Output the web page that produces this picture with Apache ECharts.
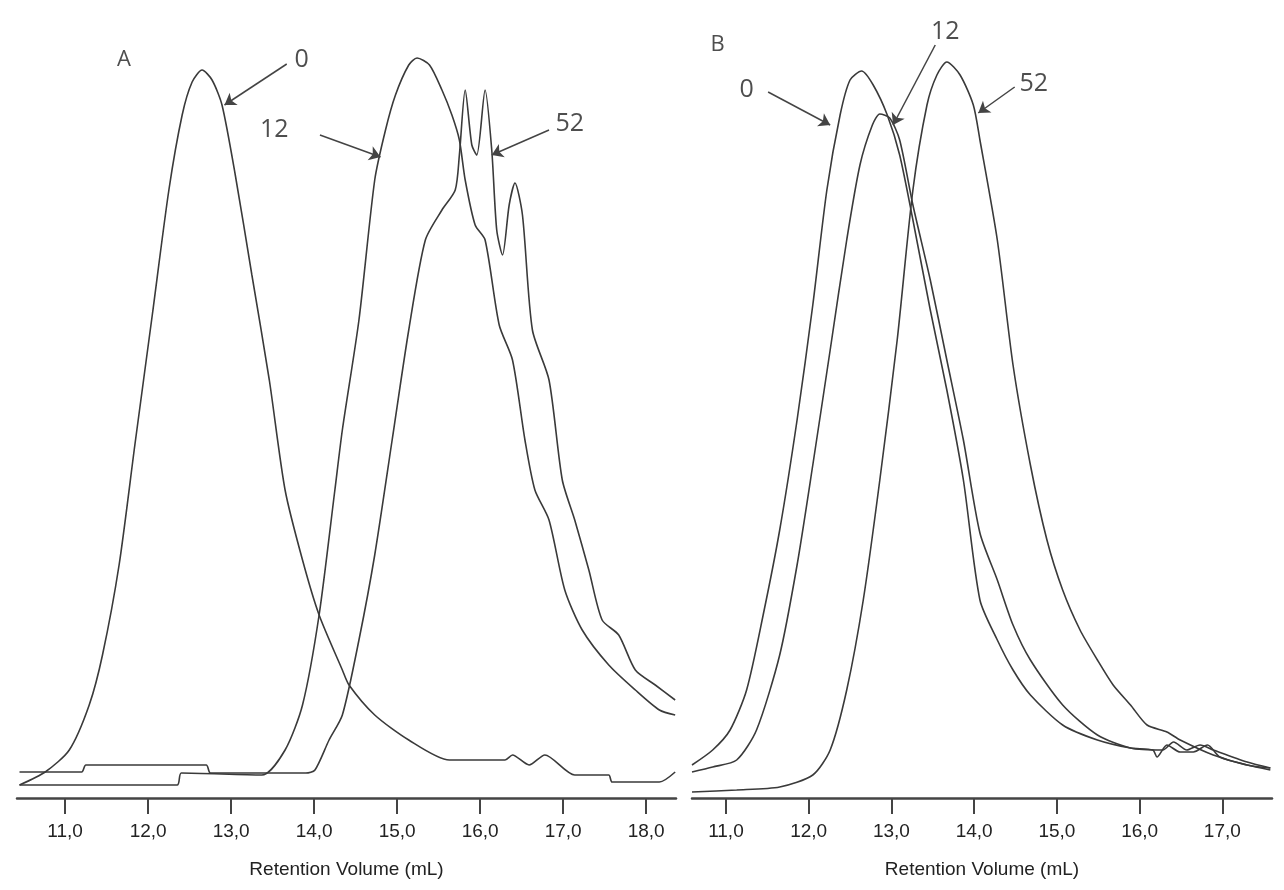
<!DOCTYPE html>
<html>
<head>
<meta charset="utf-8">
<script src="https://cdn.jsdelivr.net/npm/echarts@6/dist/echarts.min.js"></script>
<style>
html, body { margin: 0; padding: 0; background: #fff; }
#chart { width: 1284px; height: 890px; }
</style>
</head>
<body>
<div id="chart"></div>
<script>
// panel A
var a0x = [10.45, 10.76, 11.05, 11.29, 11.45, 11.65, 11.84, 12.05, 12.25, 12.41, 12.53, 12.65, 12.77, 12.89, 13.05, 13.25, 13.46, 13.65, 13.86, 14.06, 14.34, 14.42, 14.73, 15.14, 15.63, 16.30, 16.39, 16.59, 16.78, 17.14, 17.55, 17.59, 18.16, 18.35]
var a0y = [13, 26, 48, 93, 143, 233, 353, 483, 608, 683, 716, 728, 718, 693, 623, 523, 418, 308, 238, 183, 128, 113, 83, 58, 38, 38, 43, 33, 43, 23, 23, 16, 16, 26]
var a12x = [10.45, 12.35, 12.40, 13.37, 13.65, 13.86, 14.06, 14.25, 14.34, 14.54, 14.73, 14.86, 14.98, 15.14, 15.24, 15.39, 15.54, 15.66, 15.75, 15.82, 15.94, 16.06, 16.23, 16.39, 16.54, 16.66, 16.83, 17.02, 17.23, 17.55, 17.87, 18.16, 18.35]
var a12y = [13, 13, 25, 23, 48, 93, 183, 308, 368, 478, 618, 668, 703, 733, 740, 733, 708, 683, 658, 618, 573, 558, 473, 438, 358, 308, 278, 208, 168, 133, 108, 88, 83]
var a52x = [10.45, 11.20, 11.25, 12.70, 12.75, 13.90, 14.01, 14.18, 14.34, 14.54, 14.73, 14.94, 15.14, 15.34, 15.54, 15.70, 15.75, 15.82, 15.90, 15.96, 16.06, 16.14, 16.20, 16.27, 16.35, 16.42, 16.51, 16.63, 16.83, 16.99, 17.14, 17.31, 17.47, 17.67, 17.87, 18.11, 18.35]
var a52y = [26, 26, 33, 33, 25, 25, 28, 58, 83, 158, 243, 358, 468, 558, 588, 608, 643, 708, 653, 643, 708, 648, 568, 543, 593, 615, 583, 468, 418, 318, 278, 228, 178, 163, 128, 113, 98]

// panel B
var b0x = [10.59, 10.84, 11.05, 11.25, 11.45, 11.65, 11.86, 12.05, 12.22, 12.38, 12.50, 12.64, 12.78, 12.95, 13.10, 13.26, 13.47, 13.67, 13.87, 14.07, 14.28, 14.47, 14.68, 15.07, 15.49, 15.89, 16.16, 16.21, 16.33, 16.49, 16.65, 16.82, 16.97, 17.30, 17.58]
var b0y = [33, 48, 68, 108, 183, 268, 378, 493, 608, 683, 718, 727, 713, 683, 643, 578, 488, 408, 318, 198, 158, 128, 103, 73, 58, 50, 48, 41, 53, 46, 46, 53, 41, 33, 28]
var b12x = [10.59, 10.84, 11.13, 11.37, 11.65, 11.86, 12.05, 12.26, 12.46, 12.62, 12.77, 12.86, 12.98, 13.10, 13.26, 13.47, 13.67, 13.87, 14.07, 14.28, 14.47, 14.68, 15.07, 15.49, 15.89, 16.28, 16.41, 16.57, 16.73, 16.89, 17.30, 17.58]
var b12y = [26, 31, 38, 68, 143, 233, 333, 448, 558, 633, 673, 684, 680, 658, 593, 518, 438, 358, 265, 218, 173, 138, 93, 63, 50, 48, 56, 48, 53, 48, 36, 30]
var b52x = [10.59, 11.13, 11.65, 12.05, 12.26, 12.46, 12.66, 12.86, 13.07, 13.26, 13.43, 13.55, 13.67, 13.83, 13.99, 14.07, 14.28, 14.47, 14.68, 14.88, 15.07, 15.28, 15.49, 15.68, 15.89, 16.09, 16.33, 16.49, 16.89, 17.30, 17.58]
var b52y = [6, 8, 11, 23, 48, 108, 198, 318, 458, 608, 693, 723, 736, 723, 693, 658, 558, 433, 333, 258, 208, 168, 138, 113, 93, 73, 66, 58, 43, 33, 30]

var tickValsA = [11, 12, 13, 14, 15, 16, 17, 18]
var tickValsB = [11, 12, 13, 14, 15, 16, 17]

// annotation labels: [text, textX, textY, arrowFromX, arrowFromY, arrowToX, arrowToY]
var notesA = [
    ['0', 13.85, 738, 13.67, 734, 12.92, 693],
    ['12', 13.52, 668, 14.07, 663, 14.80, 641],
    ['52', 17.08, 674, 16.83, 668, 16.14, 643],
]
var notesB = [
    ['0', 11.25, 708, 11.51, 706, 12.26, 673],
    ['12', 13.65, 766, 13.53, 753, 13.02, 673],
    ['52', 14.72, 714, 14.49, 711, 14.05, 685],
]
var panelLetters = [['A', 11.71, 738], ['B', 10.90, 753]]

var zip = (xs, ys) => xs.map((x, i) => [x, ys[i]])
var fmt = (v) => v.toFixed(1).replace('.', ',')
var lineColor = '#3a3a3a'

var makeX = (idx, min, max, ticks) => {
    return {
        gridIndex: idx,
        type: 'value',
        min: min,
        max: max,
        name: 'Retention Volume (mL)',
        nameLocation: 'middle',
        nameGap: 62,
        nameTextStyle: { fontFamily: 'Liberation Sans Narrow, Liberation Sans', fontSize: 19, color: '#222' },
        splitLine: { show: false },
        axisLine: { onZero: false, lineStyle: { color: '#444', width: 2.5 } },
        axisTick: { show: true, length: 16, customValues: ticks, lineStyle: { color: '#444', width: 2 } },
        axisLabel: {
            customValues: ticks,
            formatter: fmt,
            margin: 24,
            fontFamily: 'Liberation Sans Narrow, Liberation Sans',
            fontSize: 19,
            color: '#222',
        },
    }
}

var makeY = (idx) => {
    return { gridIndex: idx, type: 'value', min: 0, max: 770, show: false }
}

var curve = (idx, xs, ys) => {
    return {
        type: 'line',
        xAxisIndex: idx,
        yAxisIndex: idx,
        data: zip(xs, ys),
        showSymbol: false,
        smooth: 0.25,
        silent: true,
        lineStyle: { color: lineColor, width: 1.6 },
    }
}

var arrows = (idx, notes) => {
    return {
        type: 'line',
        xAxisIndex: idx,
        yAxisIndex: idx,
        data: [],
        silent: true,
        markLine: {
            silent: true,
            animation: false,
            symbol: ['none', 'arrow'],
            symbolSize: 11,
            label: { show: false },
            lineStyle: { color: '#444', width: 1.5, type: 'solid' },
            data: notes.map((n) => [{ coord: [n[3], n[4]] }, { coord: [n[5], n[6]] }]),
        },
    }
}

var texts = (idx, items, size) => {
    return {
        type: 'scatter',
        xAxisIndex: idx,
        yAxisIndex: idx,
        symbolSize: 2,
        itemStyle: { color: 'rgba(0,0,0,0)' },
        silent: true,
        data: items.map((n) => ({ value: [n[1], n[2]], name: n[0] })),
        label: {
            show: true,
            position: 'inside',
            formatter: '{b}',
            fontFamily: 'Open Sans, Noto Sans',
            fontSize: size,
            color: '#222',
        },
    }
}

var chart = echarts.init(document.getElementById('chart'))
chart.setOption({
    animation: false,
    backgroundColor: '#fff',
    grid: [
        { left: 17, top: 28, width: 659, height: 770 },
        { left: 692, top: 28, width: 580, height: 770 },
    ],
    xAxis: [makeX(0, 10.42, 18.36, tickValsA), makeX(1, 10.59, 17.6, tickValsB)],
    yAxis: [makeY(0), makeY(1)],
    series: [
        curve(0, a0x, a0y),
        curve(0, a12x, a12y),
        curve(0, a52x, a52y),
        curve(1, b0x, b0y),
        curve(1, b12x, b12y),
        curve(1, b52x, b52y),
        arrows(0, notesA),
        arrows(1, notesB),
        texts(0, notesA, 25),
        texts(1, notesB, 25),
        texts(0, [panelLetters[0]], 22),
        texts(1, [panelLetters[1]], 22),
    ],
})
</script>
</body>
</html>
